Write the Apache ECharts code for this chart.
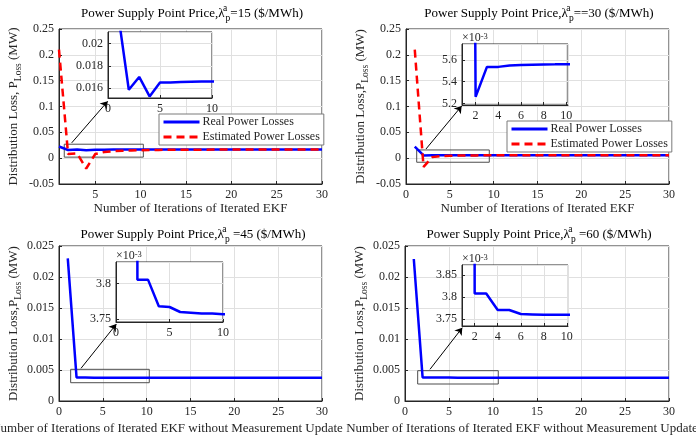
<!DOCTYPE html>
<html>
<head>
<meta charset="utf-8">
<script src="https://cdn.jsdelivr.net/npm/echarts@6/dist/echarts.min.js"></script>
<style>
  html, body { margin: 0; padding: 0; background: #fff; }
  #chart { width: 696px; height: 442px; }
</style>
</head>
<body>
<div id="chart"></div>
<script>
// iterations of the iterated EKF
const iterations = [1, 2, 3, 4, 5, 6, 7, 8, 9, 10, 11, 12, 13, 14, 15, 16, 17, 18, 19, 20, 21, 22, 23, 24, 25, 26, 27, 28, 29, 30];

// price 15 $/MWh
const realLoss15 = [0.0225, 0.01585, 0.0170, 0.01525, 0.0165, 0.0165, 0.01655, 0.01657, 0.01658, 0.01658,
  0.01658, 0.01658, 0.01658, 0.01658, 0.01658, 0.01658, 0.01658, 0.01658, 0.01658, 0.01658,
  0.01658, 0.01658, 0.01658, 0.01658, 0.01658, 0.01658, 0.01658, 0.01658, 0.01658, 0.01658];
const estLoss15 = [0.21, 0.008, 0.009, -0.02, 0.008, 0.012, 0.0135, 0.0145, 0.015, 0.0155,
  0.0158, 0.016, 0.0162, 0.0163, 0.0164, 0.0165, 0.0165, 0.01655, 0.01658, 0.01658,
  0.01658, 0.01658, 0.01658, 0.01658, 0.01658, 0.01658, 0.01658, 0.01658, 0.01658, 0.01658];

// price 30 $/MWh
const realLoss30 = [0.0225, 0.00526, 0.005535, 0.005535, 0.005548, 0.005552, 0.005555, 0.005557, 0.005558, 0.00556,
  0.00556, 0.00556, 0.00556, 0.00556, 0.00556, 0.00556, 0.00556, 0.00556, 0.00556, 0.00556,
  0.00556, 0.00556, 0.00556, 0.00556, 0.00556, 0.00556, 0.00556, 0.00556, 0.00556, 0.00556];
const estLoss30 = [0.21, -0.017, 0.002, 0.004, 0.0048, 0.0051, 0.0053, 0.0054, 0.0055, 0.00555,
  0.00556, 0.00556, 0.00556, 0.00556, 0.00556, 0.00556, 0.00556, 0.00556, 0.00556, 0.00556,
  0.00556, 0.00556, 0.00556, 0.00556, 0.00556, 0.00556, 0.00556, 0.00556, 0.00556, 0.00556];

// price 45 and 60 $/MWh (no measurement update)
const realLoss45 = [0.0230, 0.003805, 0.003805, 0.003768, 0.003767, 0.00376, 0.003759, 0.003758, 0.003758, 0.003757,
  0.003757, 0.003757, 0.003757, 0.003757, 0.003757, 0.003757, 0.003757, 0.003757, 0.003757, 0.003757,
  0.003757, 0.003757, 0.003757, 0.003757, 0.003757, 0.003757, 0.003757, 0.003757, 0.003757, 0.003757];
const realLoss60 = [0.0229, 0.003808, 0.003808, 0.003771, 0.003771, 0.003762, 0.003761, 0.00376, 0.00376, 0.00376,
  0.00376, 0.00376, 0.00376, 0.00376, 0.00376, 0.00376, 0.00376, 0.00376, 0.00376, 0.00376,
  0.00376, 0.00376, 0.00376, 0.00376, 0.00376, 0.00376, 0.00376, 0.00376, 0.00376, 0.00376];

const priceLabels = ['=15 ($/MWh)', '==30 ($/MWh)', ' =45 ($/MWh)', ' =60 ($/MWh)'];
const xNameEKF = 'Number of Iterations of Iterated EKF';
const xNameNoUpdate = 'Number of Iterations of Iterated EKF without Measurement Update';
const realName = 'Real Power Losses';
const estName = 'Estimated Power Losses';

const FONT = 'Liberation Serif';
const INK = '#262626';

const chart = echarts.init(document.getElementById('chart'));

const pairs = arr => iterations.map((x, i) => [x, arr[i]]);

// main plot areas + inset areas
const mainRects = [
  { left: 59, top: 29, width: 263, height: 155 },
  { left: 406, top: 29, width: 263, height: 155 },
  { left: 59, top: 246, width: 263, height: 155 },
  { left: 405, top: 246, width: 264, height: 155 }
];
const insetRects = [
  { left: 108, top: 32, width: 104, height: 66 },
  { left: 462, top: 44, width: 106, height: 61 },
  { left: 116, top: 262, width: 107, height: 60 },
  { left: 462, top: 265, width: 106, height: 61 }
];

// zoom box and arrow in data units of each main plot
const zoomBoxes = [
  [[1.58, 0.027], [10.3, 0.002]],
  [[1.22, 0.0159], [9.5, -0.0079]],
  [[1.33, 0.00511], [10.3, 0.00295]],
  [[1.44, 0.00489], [10.6, 0.00274]]
];
const zoomArrows = [
  [[2.4, 0.0296], [6.37, 0.110]],
  [[2.28, 0.0178], [6.35, 0.101]],
  [[2.51, 0.00527], [6.54, 0.0124]],
  [[2.84, 0.00511], [6.51, 0.01182]]
];

const baseAxis = (extra) => Object.assign({
  type: 'value',
  axisLine: { show: true, onZero: false, lineStyle: { color: INK, width: 1 } },
  axisTick: { show: true, inside: true, length: 3, lineStyle: { color: INK } },
  splitLine: { show: true, lineStyle: { color: '#e0e0e0', width: 1 } },
  axisLabel: { fontFamily: FONT, fontSize: 12, color: INK, margin: 5 }
}, extra);

const labelOpts = (extra) => Object.assign({ fontFamily: FONT, fontSize: 12, color: INK, margin: 5 }, extra);

const yName = (comma) => ({
  name: 'Distribution Loss,' + comma + 'P{s|Loss} (MW)',
  nameLocation: 'middle',
  nameGap: 36,
  nameTextStyle: {
    fontFamily: FONT, fontSize: 13, color: INK, lineHeight: 18,
    rich: { s: { fontFamily: FONT, fontSize: 9.5, color: INK, lineHeight: 8, verticalAlign: 'bottom' } }
  }
});

const expName = {
  name: '×10{sup|-3}',
  nameLocation: 'end',
  nameGap: 0,
  nameTextStyle: {
    fontFamily: FONT, fontSize: 12, color: INK, lineHeight: 12, align: 'left', verticalAlign: 'bottom',
    rich: { sup: { fontFamily: FONT, fontSize: 8.5, color: INK, lineHeight: 4, verticalAlign: 'top' } }
  }
};

const milli = v => String(+(v * 1000).toFixed(3));

const xAxes = [
  baseAxis({ gridIndex: 0, min: 1, max: 30, splitNumber: 6,
    axisLabel: labelOpts({ showMinLabel: false }),
    name: xNameEKF, nameLocation: 'middle', nameGap: 17,
    nameTextStyle: { fontFamily: FONT, fontSize: 13, color: INK } }),
  baseAxis({ gridIndex: 1, min: 0, max: 30, interval: 5,
    name: xNameEKF, nameLocation: 'middle', nameGap: 17,
    nameTextStyle: { fontFamily: FONT, fontSize: 13, color: INK } }),
  baseAxis({ gridIndex: 2, min: 0, max: 30, interval: 5,
    name: xNameNoUpdate, nameLocation: 'middle', nameGap: 21,
    nameTextStyle: { fontFamily: FONT, fontSize: 13, color: INK, padding: [0, 47, 0, 0] } }),
  baseAxis({ gridIndex: 3, min: 0, max: 30, interval: 5,
    name: xNameNoUpdate, nameLocation: 'middle', nameGap: 21,
    nameTextStyle: { fontFamily: FONT, fontSize: 13, color: INK, padding: [0, 30, 0, 0] } }),
  // insets
  baseAxis({ gridIndex: 4, min: 0, max: 10, interval: 5, z: 6 }),
  baseAxis({ gridIndex: 5, min: 0.8, max: 10.15, splitNumber: 5, z: 6,
    axisLabel: labelOpts({ showMinLabel: false, showMaxLabel: false }) }),
  baseAxis({ gridIndex: 6, min: 0, max: 10, interval: 5, z: 6 }),
  baseAxis({ gridIndex: 7, min: 0.9, max: 10.1, splitNumber: 5, z: 6,
    axisLabel: labelOpts({ showMinLabel: false, showMaxLabel: false }) })
];

const yAxes = [
  baseAxis(Object.assign({ gridIndex: 0, min: -0.05, max: 0.25, interval: 0.05 }, yName(' '))),
  baseAxis(Object.assign({ gridIndex: 1, min: -0.05, max: 0.25, interval: 0.05 }, yName(''))),
  baseAxis(Object.assign({ gridIndex: 2, min: 0, max: 0.025, interval: 0.005 }, yName(''))),
  baseAxis(Object.assign({ gridIndex: 3, min: 0, max: 0.025, interval: 0.005 }, yName(''))),
  baseAxis({ gridIndex: 4, min: 0.01511, max: 0.02103, splitNumber: 3, z: 6,
    axisLabel: labelOpts({ showMinLabel: false, showMaxLabel: false }) }),
  baseAxis(Object.assign({ gridIndex: 5, min: 0.005185, max: 0.005745, splitNumber: 3, z: 6,
    axisLabel: labelOpts({ showMinLabel: false, showMaxLabel: false, formatter: milli }) }, expName)),
  baseAxis(Object.assign({ gridIndex: 6, min: 0.003746, max: 0.00383, splitNumber: 2, z: 6,
    axisLabel: labelOpts({ showMinLabel: false, showMaxLabel: false, formatter: milli }) }, expName)),
  baseAxis(Object.assign({ gridIndex: 7, min: 0.003735, max: 0.003872, splitNumber: 3, z: 6,
    axisLabel: labelOpts({ showMinLabel: false, showMaxLabel: false, formatter: milli }) }, expName))
];

const gridBase = { show: true, borderColor: INK, borderWidth: 1, backgroundColor: '#fff', outerBoundsMode: 'none', containLabel: false };
const grids = mainRects.map(r => Object.assign({ z: 0 }, gridBase, r))
  .concat(insetRects.map(r => Object.assign({ z: 5 }, gridBase, r)));

function line(name, data, axis, dashed, z) {
  return {
    type: 'line', name: name, data: pairs(data),
    xAxisIndex: axis, yAxisIndex: axis,
    symbol: 'none', z: z, silent: true, animation: false,
    lineStyle: { color: dashed ? '#ff0000' : '#0000ff', width: 2.5, type: dashed ? [8, 5] : 'solid' },
    itemStyle: { color: dashed ? '#ff0000' : '#0000ff' }
  };
}

function zoomMarks(i) {
  const b = zoomBoxes[i], a = zoomArrows[i];
  return {
    markArea: {
      silent: true,
      itemStyle: { color: 'rgba(0,0,0,0)', borderColor: '#4d4d4d', borderWidth: 1 },
      label: { show: false },
      data: [[{ xAxis: b[0][0], yAxis: b[0][1] }, { xAxis: b[1][0], yAxis: b[1][1] }]]
    },
    markLine: {
      silent: true,
      symbol: ['none', 'arrow'],
      symbolSize: 7,
      label: { show: false },
      lineStyle: { color: '#000', width: 1, type: 'solid' },
      data: [[{ coord: a[0] }, { coord: a[1] }]]
    }
  };
}

const realSets = [realLoss15, realLoss30, realLoss45, realLoss60];
const estSets = [estLoss15, estLoss30];

const series = [];
realSets.forEach((d, i) => {
  series.push(Object.assign(line(realName, d, i, false, 2), zoomMarks(i)));
  if (estSets[i]) series.push(line(estName, estSets[i], i, true, 3));
  // inset: zoom on the real losses only
  series.push(line(realName, d, i + 4, false, 7));
});

const legendBase = {
  orient: 'vertical',
  itemWidth: 36, itemHeight: 12, itemGap: 3,
  padding: [2, 4, 2, 3],
  borderColor: '#7a7a7a', borderWidth: 1, backgroundColor: '#fff',
  itemStyle: { opacity: 0 },
  lineStyle: { width: 3 },
  textStyle: { fontFamily: FONT, fontSize: 12, color: INK, padding: [0, 0, 0, -2] },
  data: [realName, estName],
  selectedMode: false
};

const titleCenters = [[192, 13.5], [539, 13.5], [193, 234.5], [539, 234.5]];
const titles = titleCenters.map((c, i) => ({
  type: 'text', x: c[0], y: c[1], z: 10,
  style: {
    text: '{m|Power Supply Point Price,λ}{sup|a}{sub|p}{m|' + priceLabels[i] + '}',
    align: 'center', verticalAlign: 'middle', textAlign: 'center', textVerticalAlign: 'middle',
    fill: '#000', fontFamily: FONT, fontSize: 13,
    rich: {
      m: { fontFamily: FONT, fontSize: 13, color: '#000', lineHeight: 20 },
      sup: { fontFamily: FONT, fontSize: 9.5, color: '#000', lineHeight: 10, verticalAlign: 'top', width: 1 },
      sub: { fontFamily: FONT, fontSize: 9.5, color: '#000', lineHeight: 10, verticalAlign: 'bottom' }
    }
  }
}));

chart.setOption({
  animation: false,
  backgroundColor: '#fff',
  grid: grids,
  xAxis: xAxes,
  yAxis: yAxes,
  legend: [
    Object.assign({ left: 159, top: 114 }, legendBase),
    Object.assign({ left: 507, top: 121 }, legendBase)
  ],
  graphic: titles,
  series: series
});

window.addEventListener('resize', () => chart.resize());
</script>
</body>
</html>
